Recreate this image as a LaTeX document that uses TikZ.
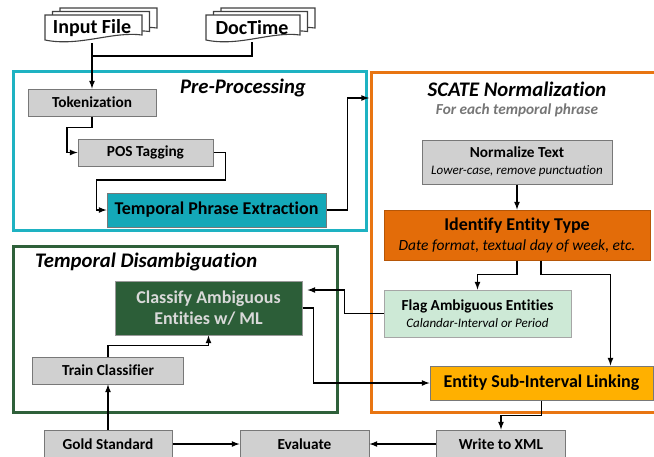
\documentclass[tikz,border=0pt]{standalone}
\usepackage{fontspec}
\setmainfont{Carlito}[Ligatures=NoCommon]
\usepackage{tikz}
\usetikzlibrary{arrows,calc,positioning}
\definecolor{tealframe}{RGB}{30,178,194}
\definecolor{tealfill}{RGB}{20,168,184}
\definecolor{greenframe}{RGB}{47,96,58}
\definecolor{greenfill}{RGB}{44,94,56}
\definecolor{orangeframe}{RGB}{232,117,18}
\definecolor{orangefill}{RGB}{227,108,9}
\definecolor{yellowfill}{RGB}{255,176,0}
\definecolor{mintfill}{RGB}{205,233,214}
\definecolor{procgray}{RGB}{208,208,208}
\definecolor{boxgray}{RGB}{120,120,120}
\definecolor{subgray}{RGB}{118,118,118}
\tikzstyle{edge}  =[line width=1.6pt, >=latex]
\tikzstyle{proc}  =[rectangle, draw=boxgray, fill=procgray,
                    line width=1pt, inner sep=0pt,
                    font=\fontsize{15.3}{18}\selectfont\bfseries]
\tikzstyle{frame} =[line width=3pt]
\tikzstyle{page}  =[draw=black!75, fill=white, line width=1.1pt]
\tikzstyle{doc}   =[inner sep=0pt, font=\fontsize{20}{24}\selectfont\bfseries]
\tikzstyle{head}  =[inner sep=0pt, font=\fontsize{20.7}{24}\selectfont\bfseries\itshape]
% one sheet of a document stack: x0 y0 x1 y1
\newcommand{\docpage}[4]{%
  \draw[page] (#1,#2) -- (#3,#2) -- (#3,#4-5)
    .. controls ({#3-0.3*(#3-#1)},#4-9) and ({#1+0.35*(#3-#1)},#4+7) .. (#1,#4) -- cycle;}

\begin{document}
\begin{tikzpicture}[x=1pt,y=-1pt]
    \useasboundingbox (0,0) rectangle (654,456);
    \clip (0,0) rectangle (654,456);

    % frames
    \draw[frame, draw=tealframe] (13,71) rectangle (366,230);
    \draw[frame, draw=orangeframe] (371,72) rectangle (664,412);
    \draw[frame, draw=greenframe] (13,246) rectangle (337,412);
    \draw (243,88) node (pretitle) [head] {Pre-Processing};
    \draw (517,89) node (scatetitle) [head] {SCATE Normalization};
    \draw (517,110) node (scatesub) [inner sep=0pt, text=subgray,
        font=\fontsize{15.3}{18}\selectfont\bfseries\itshape] {For each temporal phrase};
    \draw (35,262) node (distitle) [head, anchor=west] {Temporal Disambiguation};

    % input documents
    \docpage{60}{8}{157}{33}
    \docpage{52.5}{11.5}{149.5}{36.5}
    \docpage{45}{15}{142}{40}
    \docpage{221}{8}{315}{33}
    \docpage{213.5}{11.5}{307.5}{36.5}
    \docpage{206}{15}{300}{40}
    \draw (92,28) node (infile) [doc, minimum width=94, minimum height=30] {Input File};
    \draw (252,28) node (doctime) [doc, minimum width=90, minimum height=28] {DocTime};

    % pre-processing
    \draw (92,102.5) node (tok) [proc, minimum width=128, minimum height=27] {Tokenization};
    \draw (145.5,152.5) node (pos) [proc, minimum width=135, minimum height=27] {POS Tagging};
    \draw (216.5,210) node (tpe) [proc, fill=tealfill, minimum width=219, minimum height=34,
        font=\fontsize{18}{21}\selectfont\bfseries] {Temporal Phrase Extraction};
    \coordinate (scin) at (369,98);

    % SCATE normalization
    \draw (517,162) node (norm) [proc, minimum width=190, minimum height=44, align=center,
        font=\fontsize{15.3}{18}\selectfont] {\bfseries Normalize Text\\[-1pt]
        {\fontsize{13}{15}\selectfont\itshape Lower-case, remove punctuation}};
    \draw (517,235) node (ident) [proc, fill=orangefill, draw=orangefill!80!black,
        minimum width=266, minimum height=50, align=center,
        font=\fontsize{18}{20}\selectfont] {\bfseries Identify Entity Type\\
        {\fontsize{15.5}{17}\selectfont\itshape Date format, textual day of week, etc.}};
    \draw (477.5,313.5) node (flag) [proc, fill=mintfill, draw=black!35,
        minimum width=187, minimum height=47, align=center,
        font=\fontsize{15.3}{18}\selectfont] {\bfseries Flag Ambiguous Entities\\[-1pt]
        {\fontsize{13}{15}\selectfont\itshape Calandar-Interval or Period}};
    \draw (541.5,383) node (ent) [proc, fill=yellowfill, minimum width=223, minimum height=34,
        font=\fontsize{18}{21}\selectfont\bfseries] {Entity Sub-Interval Linking};

    % temporal disambiguation
    \draw (208.5,308) node (cls) [proc, fill=greenfill, draw=black!40, text=black!15,
        minimum width=187, minimum height=54, align=center,
        font=\fontsize{18}{21}\selectfont\bfseries] {Classify Ambiguous\\Entities w/ ML};
    \draw (108,370.5) node (train) [proc, minimum width=151, minimum height=27] {Train Classifier};

    % bottom row
    \draw (108,444) node (gold) [proc, minimum width=128, minimum height=28] {Gold Standard};
    \draw (304.5,444) node (eval) [proc, minimum width=129, minimum height=28] {Evaluate};
    \draw (501,444) node (xml) [proc, minimum width=129, minimum height=28] {Write to XML};

    % connectors
    \draw [edge,->] (infile.south) -- (tok.north);
    \draw [edge] (doctime.south) -- ++(0,14) -| (infile.south);
    \draw [edge,->] (tok.south) -- ++(0,11) -- ++(-25,0) |- (pos.west);
    \draw [edge,->] (pos.east) -- ++(12,0) -- ++(0,27.5) -- ++(-129,0) |- (tpe.west);
    \draw [edge,->] (tpe.east) -- ++(21,0) |- (scin);
    \draw [edge,->] (norm.south) -- (ident.north);
    \draw [edge,->] (ident.south) -- ++(0,14) -| (flag.north);
    \draw [edge,->] ([xshift=24]ident.south) -- ++(0,14) -| ([xshift=-43]ent.north east);
    \draw [edge,->] (flag.west) -- ++(-39,0) |- ($(cls.east)+(5,-18)$);
    \draw [edge,->] (cls.east) -- ++(11,0) |- (ent.west);
    \draw [edge,->] (train.north) -- ++(0,-11) -| (cls.south);
    \draw [edge,->] (gold.north) -- (train.south);
    \draw [edge,->] (gold.east) -- (eval.west);
    \draw [edge,->] (xml.west) -- (eval.east);
    \draw [edge,->] (ent.south) -- ++(0,15) -| (xml.north);
\end{tikzpicture}
\end{document}
